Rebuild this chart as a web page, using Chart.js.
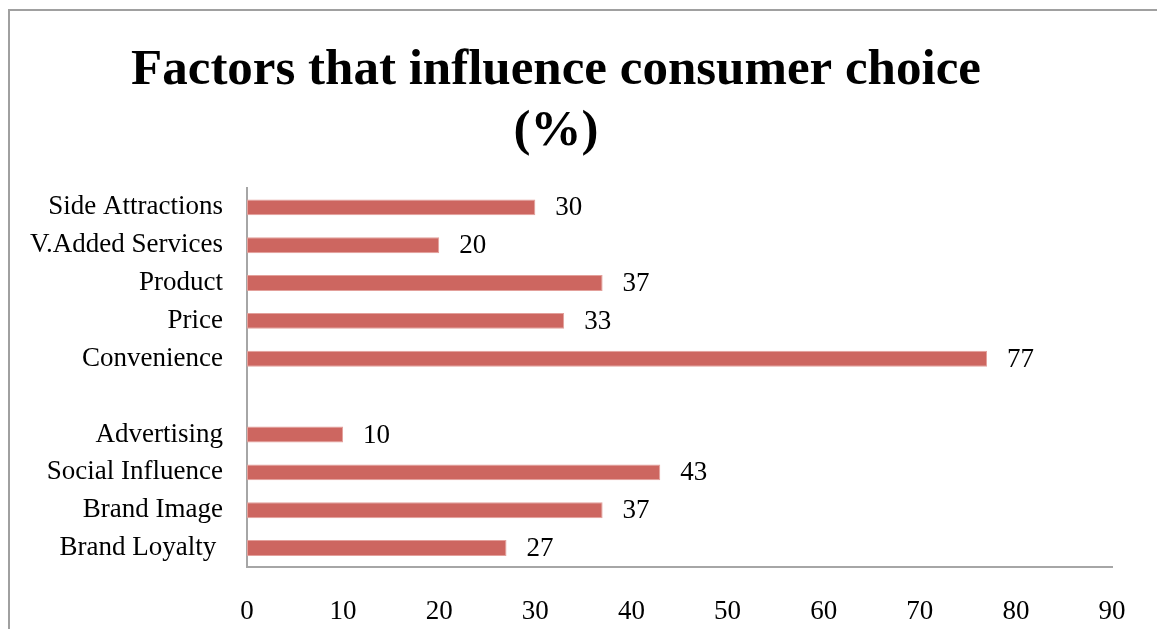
<!DOCTYPE html>
<html>
<head>
<meta charset="utf-8">
<script src="https://cdn.jsdelivr.net/npm/chart.js@4"></script>
<style>
  html, body { margin: 0; padding: 0; background: #fff; }
  #wrap { position: relative; width: 1157px; height: 629px; overflow: hidden; }
  #frame { position: absolute; left: 8px; top: 9px; width: 1200px; height: 700px;
           border-left: 2px solid #A0A0A0; border-top: 2px solid #A0A0A0; }
  canvas { position: absolute; left: 0; top: 0; }
</style>
</head>
<body>
<div id="wrap">
  <div id="frame"></div>
  <canvas id="factorsChart" width="1157" height="629"></canvas>
</div>
<script>
const categories = ["Side Attractions", "V.Added Services", "Product", "Price", "Convenience",
                    "", "Advertising", "Social Influence", "Brand Image", "Brand Loyalty "];
const percentages = [30, 20, 37, 33, 77, null, 10, 43, 37, 27];
const xTicks = [0, 10, 20, 30, 40, 50, 60, 70, 80, 90];

const serif = "'Liberation Serif', 'DejaVu Serif', serif";

Chart.defaults.color = "#000000";
Chart.defaults.font.family = serif;
Chart.defaults.font.size = 27;

// value labels to the right of each bar
const valueLabels = {
  id: 'valueLabels',
  afterDatasetsDraw(chart) {
    const ctx = chart.ctx;
    const meta = chart.getDatasetMeta(0);
    ctx.save();
    ctx.font = "27px " + serif;
    ctx.fillStyle = "#000";
    ctx.textAlign = "left";
    ctx.textBaseline = "middle";
    meta.data.forEach((bar, i) => {
      const v = percentages[i];
      if (v === null) return;
      ctx.fillText(String(v), bar.x + 20, bar.y + 1);
    });
    ctx.restore();
  }
};

const ctx = document.getElementById('factorsChart').getContext('2d');

const chart = new Chart(ctx, {
  type: 'bar',
  data: {
    labels: categories,
    datasets: [{
      data: percentages,
      backgroundColor: "#CD6660",
      borderColor: "#E3A09B",
      borderWidth: 1,
      borderSkipped: false,
      categoryPercentage: 1,
      barPercentage: 0.42,
    }]
  },
  options: {
    indexAxis: 'y',
    responsive: false,
    animation: false,
    layout: { padding: { left: 0, right: 45, top: 0, bottom: 0 } },
    plugins: {
      legend: { display: false },
      tooltip: { enabled: false },
      title: {
        display: true,
        text: ["Factors that influence consumer choice", "(%)"],
        font: { family: serif, size: 51, weight: 'bold', lineHeight: 1.2 },
        color: "#000",
        padding: { top: 40, bottom: 26 },
      },
    },
    scales: {
      x: {
        min: 0,
        max: 90,
        afterBuildTicks: axis => { axis.ticks = xTicks.map(v => ({ value: v })); },
        afterFit: axis => { axis.height = 62; },
        grid: { display: false, drawTicks: false },
        border: { display: true, color: "#A6A6A6", width: 2 },
        ticks: { padding: 29, font: { size: 27 } },
      },
      y: {
        afterFit: axis => { axis.width = 247; },
        grid: { display: false, drawTicks: false },
        border: { display: true, color: "#A6A6A6", width: 2 },
        ticks: { padding: 24, font: { size: 27 }, autoSkip: false },
      },
    }
  },
  plugins: [valueLabels]
});
</script>
</body>
</html>
